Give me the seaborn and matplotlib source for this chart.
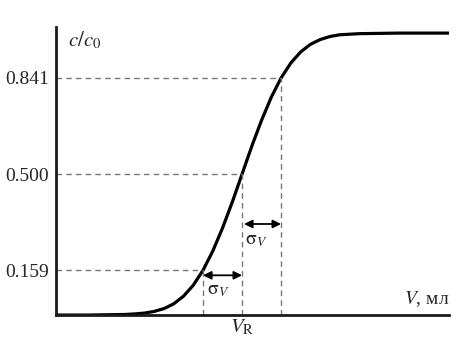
import matplotlib
matplotlib.use("Agg")
import matplotlib.pyplot as plt
import seaborn as sns
import pandas as pd

# Curve (V in units of sigma, relative to V_R)
V = [-4.77, -4.0, -3.5, -3.0, -2.75, -2.5, -2.25, -2.0, -1.75, -1.5, -1.25,
     -1.0, -0.75, -0.5, -0.25, 0.0, 0.25, 0.5, 0.75, 1.0, 1.25, 1.5, 1.75,
     2.0, 2.25, 2.5, 3.0, 3.5, 4.0, 5.3]
C = [0.000, 0.000, 0.001, 0.002, 0.004, 0.007, 0.013, 0.023, 0.040, 0.067,
     0.106, 0.159, 0.227, 0.309, 0.401, 0.500, 0.599, 0.691, 0.773, 0.841,
     0.894, 0.933, 0.960, 0.977, 0.988, 0.994, 0.998, 0.999, 1.000, 1.000]

levels = [0.159, 0.500, 0.841]
level_labels = ["0.159", "0.500", "0.841"]
level_v = [-1.0, 0.0, 1.0]

sns.set_style("white")
plt.rcParams["font.family"] = ["Liberation Serif", "DejaVu Serif"]
plt.rcParams["mathtext.fontset"] = "stix"

fig = plt.figure(figsize=(4.74, 3.54), dpi=100)
ax = fig.add_axes([0.118, 0.110, 0.829, 0.814])

df = pd.DataFrame({"V": V, "c": C})
sns.lineplot(data=df, x="V", y="c", ax=ax, color="black", lw=2.3, sort=False)

xmin, xmax = -4.77, 5.3
ax.set_xlim(xmin, xmax)
ax.set_ylim(0, 1.022)

dash = dict(color="#777777", lw=1.0, ls=(0, (4, 3)))
for lv, vv in zip(levels, level_v):
    ax.plot([xmin, vv], [lv, lv], **dash)
    ax.plot([vv, vv], [0, lv], **dash)

ax.set_yticks(levels)
ax.set_yticklabels(level_labels)
ax.set_xticks([])
ax.tick_params(axis="y", length=0, labelsize=14, pad=5)
ax.set_xlabel("")
ax.set_ylabel("")

for s in ["top", "right"]:
    ax.spines[s].set_visible(False)
for s in ["left", "bottom"]:
    ax.spines[s].set_color("#1a1a1a")
    ax.spines[s].set_linewidth(2.0)

arrow = dict(arrowstyle="<|-|>", color="black", lw=1.3, mutation_scale=12,
             shrinkA=0, shrinkB=0)
ax.annotate("", xy=(-1.0, 0.141), xytext=(0.0, 0.141), arrowprops=arrow)
ax.annotate("", xy=(0.05, 0.323), xytext=(1.0, 0.323), arrowprops=arrow)
ax.text(-0.6, 0.088, r"$\mathrm{\sigma}_V$", fontsize=14, ha="center", va="center")
ax.text(0.35, 0.266, r"$\mathrm{\sigma}_V$", fontsize=14, ha="center", va="center")

ax.text(0.0, -0.045, r"$V_\mathrm{R}$", fontsize=15, ha="center", va="center",
        clip_on=False)
ax.text(5.3, 0.055, r"$V$, мл", fontsize=14, ha="right", va="center")
ax.text(-4.45, 0.975, r"$c/c_0$", fontsize=15, ha="left", va="center")

fig.savefig("out.png", dpi=100)
